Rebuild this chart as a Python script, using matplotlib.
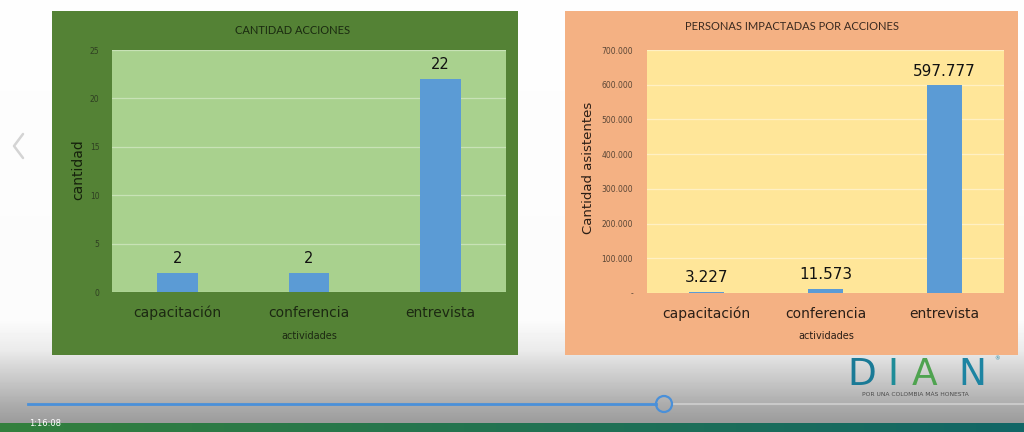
import numpy as np
import matplotlib
matplotlib.use("Agg")
import matplotlib.pyplot as plt
from matplotlib.patches import Rectangle, Circle

# ---------------- data ----------------
categories = ["capacitación", "conferencia", "entrevista"]
acciones = [2, 2, 22]
personas = [3227, 11573, 597777]
acciones_ticks = [0, 5, 10, 15, 20, 25]
personas_ticks = [0, 100000, 200000, 300000, 400000, 500000, 600000, 700000]
personas_ticklabels = ["-", "100.000", "200.000", "300.000", "400.000",
                       "500.000", "600.000", "700.000"]
personas_datalabels = ["3.227", "11.573", "597.777"]

W, H = 1024, 432
fig = plt.figure(figsize=(W / 100, H / 100), dpi=100)


def ax_px(x0, y0, x1, y1):
    return fig.add_axes([x0 / W, 1 - y1 / H, (x1 - x0) / W, (y1 - y0) / H])


def ftext(x, y, s, **kw):
    fig.text(x / W, 1 - y / H, s, **kw)


# ---------------- background (screenshot frame) ----------------
bg = fig.add_axes([0, 0, 1, 1])
bg.set_xlim(0, W)
bg.set_ylim(H, 0)
bg.axis("off")
rows = np.arange(H)
stops_y = [0, 320, 350, 362, 385, 405, 422]
stops_v = [0.995, 0.985, 0.92, 0.86, 0.76, 0.67, 0.61]
vals = np.interp(rows, stops_y, stops_v)
grad = np.repeat(vals[:, None], 8, axis=1)
bg.imshow(grad, cmap="gray", vmin=0, vmax=1, extent=[0, W, H, 0], aspect="auto", zorder=0)
# bottom coloured strip
strip = np.zeros((2, 64, 3))
left_c = np.array([0.20, 0.50, 0.24])
right_c = np.array([0.07, 0.40, 0.40])
for i in range(64):
    t = i / 63
    strip[:, i, :] = left_c * (1 - t) + right_c * t
bg.imshow(strip, extent=[0, W, H, 423], aspect="auto", zorder=1)

# chevron
bg.plot([23, 14, 23], [134, 146, 158], color="#d4d4d4", lw=1.8, solid_capstyle="round", zorder=2)

# panels
bg.add_patch(Rectangle((52, 11), 466, 344, facecolor="#548235", edgecolor="none", zorder=2))
bg.add_patch(Rectangle((565, 11), 453, 344, facecolor="#F4B183", edgecolor="none", zorder=2))

# progress bar
bg.plot([28, 656], [404, 404], color="#4a90d9", lw=2, zorder=3)
bg.plot([672, 1024], [404, 404], color="#c9c9c9", lw=1.5, zorder=3)
bg.add_patch(Circle((664, 404), 8, facecolor="none", edgecolor="#4a90d9", lw=1.6, zorder=4))
bg.text(29, 424, "1:16:08", color="white", fontsize=6, va="center", ha="left", zorder=5)

# DIAN logo
logo_kw = dict(fontsize=27, fontfamily="DejaVu Sans", fontweight="normal",
               va="baseline", ha="center", zorder=5)
bg.text(862, 385, "D", color="#1a7a96", **logo_kw)
bg.text(893, 385, "I", color="#1e8c98", **logo_kw)
bg.text(925, 385, "A", color="#4fa350", **logo_kw)
bg.text(972, 385, "N", color="#1d84a2", **logo_kw)
bg.text(997, 359, "®", color="#1d84a2", fontsize=4, va="center", ha="center", zorder=5)
bg.text(915, 394, "POR UNA COLOMBIA MÁS HONESTA", color="#4a4a4a", fontsize=4.3,
        va="center", ha="center", zorder=5)

bar_color = "#5B9BD5"

# ---------------- left chart ----------------
axL = ax_px(112, 50, 506, 292)
axL.set_facecolor("#A9D18E")
x = np.arange(len(categories))
axL.bar(x, acciones, width=0.31, color=bar_color, zorder=3)
axL.set_xlim(-0.5, 2.5)
axL.set_ylim(0, 25)
axL.set_yticks(acciones_ticks)
axL.set_yticklabels([str(t) for t in acciones_ticks], fontsize=5.5, color="#2f3f22")
axL.set_xticks(x)
axL.set_xticklabels(categories, fontsize=10, color="#1c2812")
axL.tick_params(axis="both", length=0)
axL.tick_params(axis="y", pad=9)
axL.tick_params(axis="x", pad=10)
axL.grid(axis="y", color="#c8e2b6", lw=0.9, zorder=1)
for s in axL.spines.values():
    s.set_visible(False)
for xi, v in zip(x, acciones):
    axL.annotate(str(v), (xi, v), xytext=(0, 5), textcoords="offset points",
                 ha="center", va="bottom", fontsize=10.5, color="#111111")
ftext(293, 30, "CANTIDAD ACCIONES", fontsize=8, fontfamily="Lato", color="#1a2a10",
      ha="center", va="center")
ftext(78, 170, "cantidad", fontsize=10, color="#15200c", rotation=90, ha="center", va="center")
ftext(309, 336, "actividades", fontsize=7, color="#1c2812", ha="center", va="center")

# ---------------- right chart ----------------
axR = ax_px(647, 50, 1004, 293)
axR.set_facecolor("#FFE699")
axR.bar(x, personas, width=0.30, color=bar_color, zorder=3)
axR.set_xlim(-0.5, 2.5)
axR.set_ylim(0, 700000)
axR.set_yticks(personas_ticks)
axR.set_yticklabels(personas_ticklabels, fontsize=5.5, color="#5a4636")
axR.set_xticks(x)
axR.set_xticklabels(categories, fontsize=10, color="#2a1e16")
axR.tick_params(axis="both", length=0)
axR.tick_params(axis="y", pad=10)
axR.tick_params(axis="x", pad=10)
axR.grid(axis="y", color="#fff0c4", lw=0.9, zorder=1)
for s in axR.spines.values():
    s.set_visible(False)
for xi, v, lab in zip(x, personas, personas_datalabels):
    axR.annotate(lab, (xi, v), xytext=(0, 5), textcoords="offset points",
                 ha="center", va="bottom", fontsize=11, color="#111111")
ftext(792, 27, "PERSONAS IMPACTADAS POR ACCIONES", fontsize=8, fontfamily="Lato",
      color="#3a2a20", ha="center", va="center")
ftext(589, 168, "Cantidad asistentes", fontsize=9.5, color="#2a1e16", rotation=90,
      ha="center", va="center")
ftext(826, 336, "actividades", fontsize=7, color="#2a1e16", ha="center", va="center")

fig.savefig("out.png", dpi=100)
